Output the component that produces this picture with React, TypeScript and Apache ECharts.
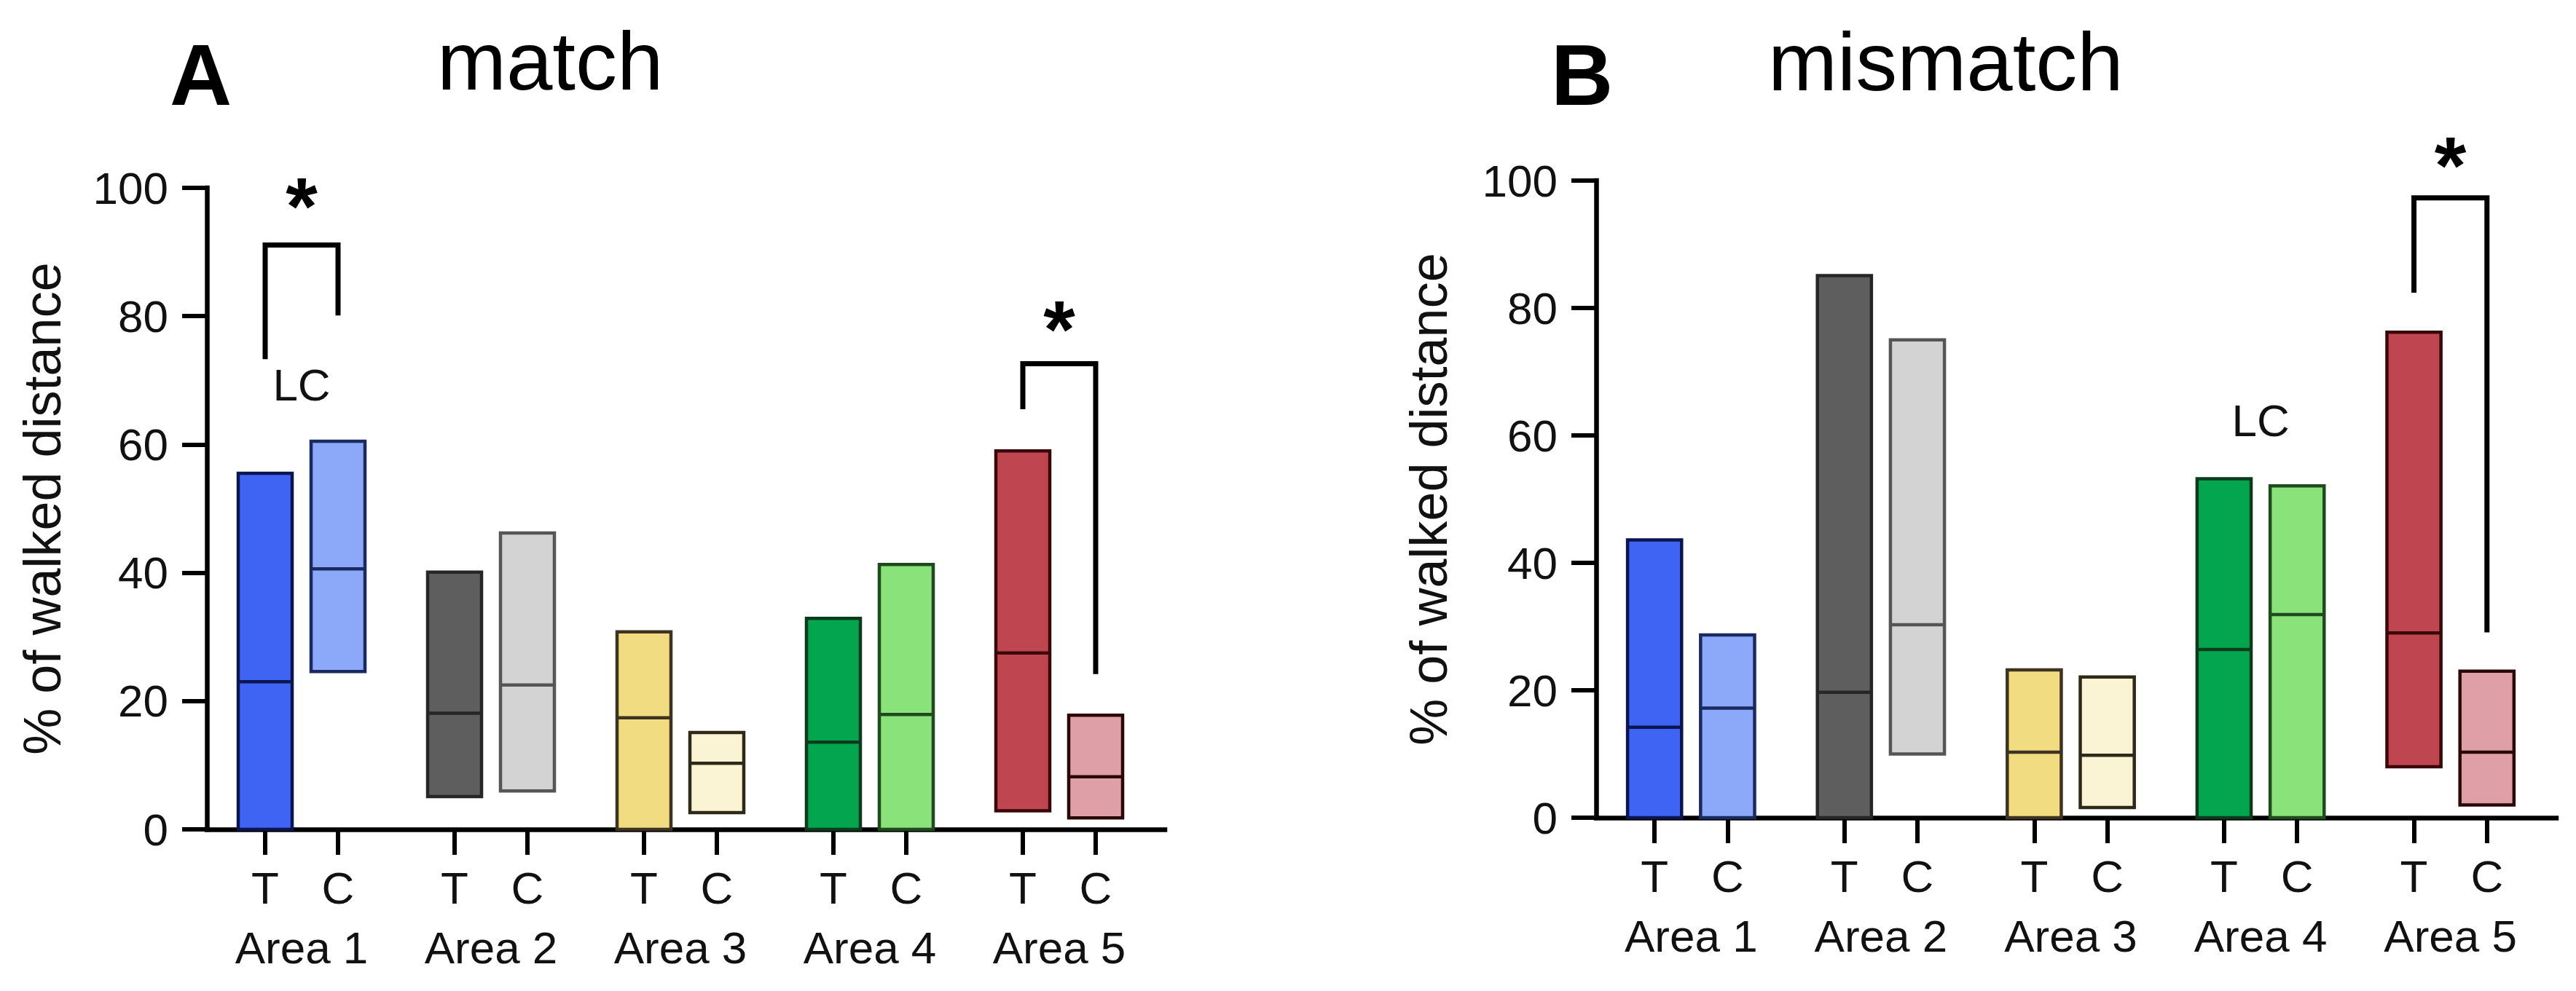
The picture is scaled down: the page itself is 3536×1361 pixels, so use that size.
import React, { useEffect, useRef } from "react";
import * as echarts from "echarts";

// ---------- data ----------
const AREAS = ["Area 1", "Area 2", "Area 3", "Area 4", "Area 5"];
const CONDITIONS = ["T", "C"];
const Y_NAME = "% of walked distance";
const PANEL_LETTERS = ["A", "B"];
const PANEL_TITLES = ["match", "mismatch"];
const NOTE_TEXT = "LC";
const SIG_TEXT = "*";

// match panel (A): min / median / max of each floating bar
const MATCH_T_LOW = [0, 5.1, 0, 0, 2.9];
const MATCH_T_MEDIAN = [23.0, 18.1, 17.4, 13.6, 27.5];
const MATCH_T_HIGH = [55.5, 40.1, 30.8, 32.9, 59.0];
const MATCH_C_LOW = [24.6, 6.0, 2.6, 0, 1.8];
const MATCH_C_MEDIAN = [40.6, 22.5, 10.3, 17.9, 8.2];
const MATCH_C_HIGH = [60.5, 46.2, 15.1, 41.3, 17.8];

// mismatch panel (B)
const MISMATCH_T_LOW = [0, 0, 0, 0, 8.0];
const MISMATCH_T_MEDIAN = [14.2, 19.7, 10.3, 26.4, 29.0];
const MISMATCH_T_HIGH = [43.6, 85.1, 23.2, 53.2, 76.2];
const MISMATCH_C_LOW = [0, 10.0, 1.6, 0, 2.0];
const MISMATCH_C_MEDIAN = [17.2, 30.3, 9.8, 31.9, 10.3];
const MISMATCH_C_HIGH = [28.7, 75.0, 22.1, 52.1, 23.0];

// significance brackets: area index, top, left end, right end, star level
const MATCH_SIG_AREA = [0, 4];
const MATCH_SIG_TOP = [91.1, 72.6];
const MATCH_SIG_LEFT_END = [73.3, 65.5];
const MATCH_SIG_RIGHT_END = [80.1, 24.2];
const MATCH_SIG_STAR = [98.8, 79.6];

const MISMATCH_SIG_AREA = [4];
const MISMATCH_SIG_TOP = [97.3];
const MISMATCH_SIG_LEFT_END = [82.4];
const MISMATCH_SIG_RIGHT_END = [29.1];
const MISMATCH_SIG_STAR = [104.0];

// "LC" notes: area index and level
const MATCH_NOTE_AREA = [0];
const MATCH_NOTE_LEVEL = [69.3];
const MISMATCH_NOTE_AREA = [3];
const MISMATCH_NOTE_LEVEL = [62.3];

// ---------- styles ----------
const T_FILL = ["#3f63f2", "#5e5e5e", "#f2dc82", "#03a64f", "#bf4650"];
const C_FILL = ["#8ba8f9", "#d3d3d3", "#faf3d4", "#8ae27a", "#dea0a6"];
const T_STROKE = ["#0b1550", "#262626", "#3e3220", "#0c3a1c", "#3a0808"];
const C_STROKE = ["#1a2a60", "#555555", "#2e2818", "#1e4a1e", "#2a0808"];

const FONT = "'Liberation Sans', Arial, Helvetica, sans-serif";
const FIRST = 0.8;
const PAIR = 1.0;
const STEP = 2.6;
const X_MAX = 13.15;
const BAR_W = 0.74;

const xOf = (area: number, cond: number) => FIRST + area * STEP + cond * PAIR;
const centerOf = (area: number) => FIRST + area * STEP + PAIR / 2;

function buildRows(tl: number[], tm: number[], th: number[], cl: number[], cm: number[], ch: number[]) {
  const rows: number[][] = [];
  AREAS.forEach((_, a) => {
    rows.push([xOf(a, 0), tl[a], tm[a], th[a], a, 0]);
    rows.push([xOf(a, 1), cl[a], cm[a], ch[a], a, 1]);
  });
  return rows;
}

function buildSig(area: number[], top: number[], le: number[], re: number[], star: number[]) {
  return area.map((a, i) => [xOf(a, 0), xOf(a, 1), top[i], le[i], re[i], star[i]]);
}

function buildNotes(area: number[], level: number[]) {
  return area.map((a, i) => [centerOf(a), level[i]]);
}

const tcValues = AREAS.flatMap((_, a) => CONDITIONS.map((__, c) => xOf(a, c)));
const areaValues = AREAS.map((_, a) => centerOf(a));

const renderBar = (params: any, api: any) => {
  const x = api.value(0);
  const lo = api.value(1);
  const med = api.value(2);
  const hi = api.value(3);
  const a = api.value(4);
  const c = api.value(5);
  const pt = api.coord([x, hi]);
  const pb = api.coord([x, lo]);
  const pm = api.coord([x, med]);
  const w = api.size([BAR_W, 0])[0];
  const fill = c === 0 ? T_FILL[a] : C_FILL[a];
  const stroke = c === 0 ? T_STROKE[a] : C_STROKE[a];
  return {
    type: "group",
    children: [
      {
        type: "rect",
        shape: { x: pt[0] - w / 2, y: pt[1], width: w, height: pb[1] - pt[1] },
        style: { fill, stroke, lineWidth: 4.5 },
      },
      {
        type: "line",
        shape: { x1: pt[0] - w / 2, y1: pm[1], x2: pt[0] + w / 2, y2: pm[1] },
        style: { stroke, lineWidth: 4.5 },
      },
    ],
  };
};

const STAR_SIZE = 112;
const renderSig = (params: any, api: any) => {
  const xl = api.value(0);
  const xr = api.value(1);
  const top = api.value(2);
  const le = api.value(3);
  const re = api.value(4);
  const st = api.value(5);
  const p1 = api.coord([xl, le]);
  const p2 = api.coord([xl, top]);
  const p3 = api.coord([xr, top]);
  const p4 = api.coord([xr, re]);
  const ps = api.coord([(xl + xr) / 2, st]);
  return {
    type: "group",
    children: [
      {
        type: "polyline",
        shape: { points: [p1, p2, p3, p4] },
        style: { stroke: "#000", lineWidth: 7, fill: null, lineJoin: "miter" },
      },
      {
        type: "text",
        x: ps[0],
        y: ps[1] + STAR_SIZE * 0.13,
        style: {
          text: SIG_TEXT,
          fontSize: STAR_SIZE,
          fontWeight: "bold",
          fontFamily: FONT,
          fill: "#000",
          align: "center",
          verticalAlign: "middle",
        },
      },
    ],
  };
};

const renderNote = (params: any, api: any) => {
  const p = api.coord([api.value(0), api.value(1)]);
  return {
    type: "text",
    x: p[0],
    y: p[1],
    style: {
      text: NOTE_TEXT,
      fontSize: 62,
      fontFamily: FONT,
      fill: "#111",
      align: "center",
      verticalAlign: "middle",
    },
  };
};

function makeXAxes(gridIndex: number) {
  return [
    {
      type: "value",
      gridIndex,
      min: 0,
      max: X_MAX,
      position: "bottom",
      splitLine: { show: false },
      axisLine: { show: true, onZero: false, lineStyle: { color: "#000", width: 6.5, cap: "square" } },
      axisTick: { show: true, customValues: tcValues, length: 35, lineStyle: { color: "#000", width: 6 } },
      axisLabel: {
        show: true,
        customValues: tcValues,
        margin: 49,
        fontSize: 62,
        fontFamily: FONT,
        color: "#111",
        formatter: (v: number) => {
          const r = (((v - FIRST) % STEP) + STEP) % STEP;
          return r < 0.5 || r > STEP - 0.5 ? CONDITIONS[0] : CONDITIONS[1];
        },
      },
    },
    {
      type: "value",
      gridIndex,
      min: 0,
      max: X_MAX,
      position: "bottom",
      splitLine: { show: false },
      axisLine: { show: false },
      axisTick: { show: false },
      axisLabel: {
        show: true,
        customValues: areaValues,
        margin: 131,
        fontSize: 62,
        fontFamily: FONT,
        color: "#111",
        formatter: (v: number) => AREAS[Math.round((v - FIRST - PAIR / 2) / STEP)] ?? "",
      },
    },
  ];
}

function makeYAxis(gridIndex: number, nameGap: number) {
  return {
    type: "value",
    gridIndex,
    min: 0,
    max: 100,
    interval: 20,
    name: Y_NAME,
    nameLocation: "middle",
    nameGap,
    nameTextStyle: { fontSize: 72, fontFamily: FONT, color: "#111" },
    splitLine: { show: false },
    axisLine: { show: true, lineStyle: { color: "#000", width: 6.5, cap: "square" } },
    axisTick: { show: true, length: 34, lineStyle: { color: "#000", width: 6 } },
    axisLabel: { margin: 53, fontSize: 62, fontFamily: FONT, color: "#111" },
  };
}

export default function App() {
  const ref = useRef<HTMLDivElement>(null);
  useEffect(() => {
    if (!ref.current) return;
    const chart = echarts.init(ref.current, null, { renderer: "svg" });
    const matchRows = buildRows(MATCH_T_LOW, MATCH_T_MEDIAN, MATCH_T_HIGH, MATCH_C_LOW, MATCH_C_MEDIAN, MATCH_C_HIGH);
    const mismatchRows = buildRows(
      MISMATCH_T_LOW, MISMATCH_T_MEDIAN, MISMATCH_T_HIGH,
      MISMATCH_C_LOW, MISMATCH_C_MEDIAN, MISMATCH_C_HIGH
    );
    const option: any = {
      animation: false,
      backgroundColor: "#ffffff",
      grid: [
        { left: 284, top: 258, width: 1315, height: 881, containLabel: false },
        { left: 2191, top: 248, width: 1318, height: 875, containLabel: false },
      ],
      xAxis: [...makeXAxes(0), ...makeXAxes(1)],
      yAxis: [makeYAxis(0, 190), makeYAxis(1, 194)],
      graphic: [
        { type: "text", x: 233, y: 103, style: { text: PANEL_LETTERS[0], fontSize: 118, fontWeight: "bold", fontFamily: FONT, fill: "#000", align: "left", verticalAlign: "middle" } },
        { type: "text", x: 600, y: 83, style: { text: PANEL_TITLES[0], fontSize: 114, fontFamily: FONT, fill: "#000", align: "left", verticalAlign: "middle" } },
        { type: "text", x: 2129, y: 103, style: { text: PANEL_LETTERS[1], fontSize: 118, fontWeight: "bold", fontFamily: FONT, fill: "#000", align: "left", verticalAlign: "middle" } },
        { type: "text", x: 2427, y: 84, style: { text: PANEL_TITLES[1], fontSize: 114, fontFamily: FONT, fill: "#000", align: "left", verticalAlign: "middle" } },
      ],
      series: [
        { type: "custom", xAxisIndex: 0, yAxisIndex: 0, renderItem: renderBar, data: matchRows, clip: false, encode: { x: 0, y: [1, 2, 3] } },
        { type: "custom", xAxisIndex: 2, yAxisIndex: 1, renderItem: renderBar, data: mismatchRows, clip: false, encode: { x: 0, y: [1, 2, 3] } },
        {
          type: "custom", xAxisIndex: 0, yAxisIndex: 0, renderItem: renderSig, clip: false,
          data: buildSig(MATCH_SIG_AREA, MATCH_SIG_TOP, MATCH_SIG_LEFT_END, MATCH_SIG_RIGHT_END, MATCH_SIG_STAR),
          encode: { x: [0, 1], y: [2, 3, 4] },
        },
        {
          type: "custom", xAxisIndex: 2, yAxisIndex: 1, renderItem: renderSig, clip: false,
          data: buildSig(MISMATCH_SIG_AREA, MISMATCH_SIG_TOP, MISMATCH_SIG_LEFT_END, MISMATCH_SIG_RIGHT_END, MISMATCH_SIG_STAR),
          encode: { x: [0, 1], y: [2, 3, 4] },
        },
        { type: "custom", xAxisIndex: 0, yAxisIndex: 0, renderItem: renderNote, clip: false, data: buildNotes(MATCH_NOTE_AREA, MATCH_NOTE_LEVEL), encode: { x: 0, y: 1 } },
        { type: "custom", xAxisIndex: 2, yAxisIndex: 1, renderItem: renderNote, clip: false, data: buildNotes(MISMATCH_NOTE_AREA, MISMATCH_NOTE_LEVEL), encode: { x: 0, y: 1 } },
      ],
    };
    chart.setOption(option);
    return () => chart.dispose();
  }, []);
  return (
    <div
      ref={ref}
      style={{ position: "absolute", left: 0, top: 0, width: 3536, height: 1361, background: "#fff" }}
    />
  );
}
